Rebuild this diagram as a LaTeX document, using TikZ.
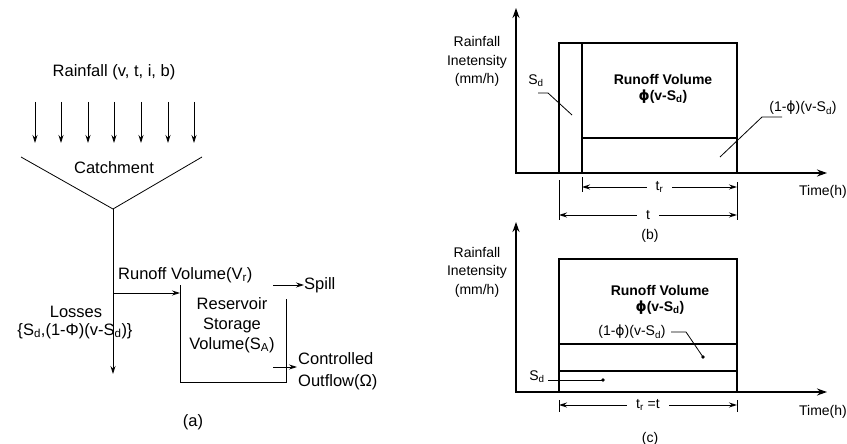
\documentclass[tikz,border=0pt]{standalone}
\usepackage{fontspec}
\setmainfont{Liberation Sans}
\newfontfamily\phifont{DejaVu Sans}
\usetikzlibrary{arrows.meta}
\newcommand\mysub[1]{\textsubscript{#1}}
\newcommand\myphi{{\phifont ϕ}}
\begin{document}
\begin{tikzpicture}[x=1pt,y=-1pt,
  lbl/.style={inner sep=0pt, font=\fontsize{16.5}{20}\selectfont},
  rlbl/.style={inner sep=0pt, font=\fontsize{14}{18.5}\selectfont},
  blbl/.style={inner sep=0pt, font=\fontsize{14}{16}\selectfont\bfseries, align=center},
  ln/.style={line width=0.8pt},
  arr/.style={ln, -{Stealth[length=8pt,width=5pt]}},
  axes/.style={line width=1.8pt, {Stealth[length=10pt,width=7pt]}-{Stealth[length=10pt,width=7pt]}},
  boxln/.style={line width=1.1pt},
  dimarr/.style={line width=1pt, {Stealth[length=8pt,width=5pt]}-{Stealth[length=8pt,width=5pt]}},
  dimlbl/.style={rlbl, fill=white, inner xsep=9pt, inner ysep=1pt},
  dot/.style={fill=black}
]
\useasboundingbox (0,0) rectangle (847,444);

% ---------------- (a) ----------------
\node[lbl] (rain) at (114,72) {Rainfall (v, t, i, b)};
\foreach \x [count=\i] in {35,61,88,114,141,168,194} {
  \coordinate (r\i a) at (\x,102);
  \coordinate (r\i b) at (\x,143);
  \draw[arr] (r\i a) -- (r\i b);
}
\coordinate (cl) at (21,157);
\coordinate (cr) at (202,157);
\coordinate (cv) at (113,209);
\draw[ln] (cl) -- (cv) -- (cr);
\node[lbl] (catch) at (114,168) {Catchment};

\coordinate (lossend) at (113,374);
\draw[arr] (cv) -- (lossend);
\node[lbl] (loss) at (76,312) {Losses};
\node[lbl] (lossf) at (75,331) {\{S\mysub{d},(1-Φ)(v-S\mysub{d})\}};

\coordinate (rj) at (113,293);
\coordinate (rin) at (180,293);
\draw[arr] (rj) -- (rin);
\node[lbl, anchor=west] (runoff) at (118,275) {Runoff Volume(V\mysub{r})};

\coordinate (btl) at (180,285);
\coordinate (bbl) at (180,382);
\coordinate (bbr) at (286,382);
\coordinate (btr) at (286,299);
\draw[ln] (btl) -- (bbl) -- (bbr) -- (btr);
\node[lbl, align=center] (res) at (232,325) {Reservoir\\Storage\\Volume(S\mysub{A})};

\coordinate (sp1) at (273,285);
\node[lbl, anchor=west] (spill) at (304,285) {Spill};
\draw[arr] (sp1) -- (spill.west);

\coordinate (co1) at (273,367);
\coordinate (co2) at (297,367);
\node[lbl, anchor=west, align=left, font=\fontsize{16.5}{22}\selectfont] (ctrl) at (298,371) {Controlled\\Outflow(Ω)};
\draw[arr] (co1) -- (co2);

\node[lbl] (capa) at (193,422) {(a)};

% ---------------- (b) ----------------
\coordinate (bo) at (516,173);
\coordinate (by) at (516,8);
\coordinate (bx) at (827,173);
\draw[axes] (by) -- (bo) -- (bx);
\draw[boxln] (559,43) rectangle (737,173);
\draw[boxln] (582,43) -- (582,173);
\draw[boxln] (582,138) -- (737,138);

\node[rlbl, align=center] (bylab) at (477,61.5) {Rainfall\\Inetensity\\(mm/h)};
\node[rlbl] (bsd) at (536,81) {S\mysub{d}};
\coordinate (bsd1) at (538,93);
\coordinate (bsd2) at (548,93);
\coordinate (bsd3) at (572,115);
\draw[ln] (bsd1) -- (bsd2) -- (bsd3);

\node[blbl] (brun) at (663,89) {Runoff Volume\\\myphi(v-S\mysub{d})};
\node[rlbl] (bloss) at (803,108) {(1-\myphi)(v-S\mysub{d})};
\coordinate (bl1) at (782,117);
\coordinate (bl2) at (762,117);
\coordinate (bl3) at (720,157);
\draw[ln] (bl1) -- (bl2) -- (bl3);

\coordinate (bt0a) at (559,180); \coordinate (bt0b) at (559,220);
\coordinate (bt1a) at (582,177); \coordinate (bt1b) at (582,192);
\coordinate (bt2a) at (737,182); \coordinate (bt2b) at (737,220);
\draw[ln] (bt0a) -- (bt0b);
\draw[ln] (bt1a) -- (bt1b);
\draw[ln] (bt2a) -- (bt2b);
\coordinate (btr1) at (582,187); \coordinate (btr2) at (737,187);
\coordinate (bt1) at (559,215); \coordinate (bt2) at (737,215);
\draw[dimarr] (btr1) -- node[dimlbl] (btrl) {t\mysub{r}} (btr2);
\draw[dimarr] (bt1) -- node[dimlbl] (btl) {t} (bt2);

\node[rlbl] (btime) at (823,192) {Time(h)};
\node[rlbl] (capb) at (650,236) {(b)};

% ---------------- (c) ----------------
\coordinate (co) at (516,392);
\coordinate (cy) at (516,222);
\coordinate (cx) at (827,392);
\draw[axes] (cy) -- (co) -- (cx);
\draw[boxln] (559,259) rectangle (737,392);
\draw[boxln] (559,344) -- (737,344);
\draw[line width=1.6pt] (559,371) -- (737,371);

\node[rlbl, align=center] (cylab) at (477,272) {Rainfall\\Inetensity\\(mm/h)};
\node[blbl] (crun) at (660,299.5) {Runoff Volume\\\myphi(v-S\mysub{d})};

\node[rlbl] (closs) at (632,332) {(1-\myphi)(v-S\mysub{d})};
\coordinate (cl1) at (671,332);
\coordinate (cl2) at (686,332);
\coordinate (cl3) at (703,357);
\draw[ln] (cl1) -- (cl2) -- (cl3);
\fill[dot] (cl3) circle (1.8pt);

\node[rlbl] (csd) at (537,377) {S\mysub{d}};
\coordinate (cs1) at (548,380);
\coordinate (cs2) at (603,380);
\draw[ln] (cs1) -- (cs2);
\fill[dot] (cs2) circle (1.8pt);

\coordinate (ct0a) at (559,400); \coordinate (ct0b) at (559,412);
\coordinate (ct2a) at (737,400); \coordinate (ct2b) at (737,412);
\draw[ln] (ct0a) -- (ct0b);
\draw[ln] (ct2a) -- (ct2b);
\coordinate (ct1) at (559,405); \coordinate (ct2) at (737,405);
\draw[dimarr] (ct1) -- node[dimlbl] (ctl) {t\mysub{r} =t} (ct2);

\node[rlbl] (ctime) at (823,412) {Time(h)};
\node[rlbl] (capc) at (650,439) {(c)};
\end{tikzpicture}
\end{document}
